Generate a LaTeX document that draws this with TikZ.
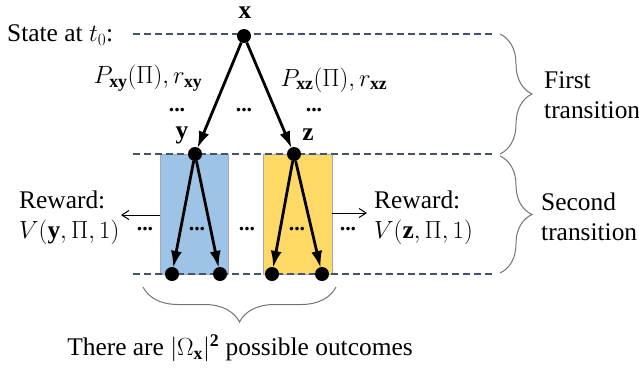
\documentclass[tikz,border=0pt]{standalone}
\usepackage{amsmath}
\usepackage{fontspec}
\setmainfont{Liberation Serif}
\usepackage{xcolor}
\usepackage{tikz}
\usetikzlibrary{arrows.meta,positioning,decorations.pathreplacing}
\definecolor{guide}{HTML}{44546A}
\definecolor{boxblue}{HTML}{9DC3E6}
\definecolor{boxgold}{HTML}{FFD966}

\begin{document}
\begin{tikzpicture}[x=1bp, y=-1bp,
    state/.style={circle, fill=black, inner sep=0pt, minimum size=14bp},
    level/.style={draw=guide, line width=1.8bp, dash pattern=on 7bp off 4bp},
    move/.style={-{Latex[length=17bp,width=11bp]}, line width=2.8bp, shorten >=-1bp},
    push/.style={-{Straight Barb[length=7bp,width=9bp]}, line width=1bp},
    span/.style={draw=black!55, line width=1bp, decorate, decoration={brace, amplitude=#1}},
    subbox/.style={draw=guide!50, line width=0.6bp, minimum width=68bp, minimum height=120bp, inner sep=0pt},
    txt/.style={font=\fontsize{25.5}{30}\selectfont, inner sep=0pt, align=left},
    more/.style={font=\fontsize{22}{28}\selectfont\bfseries, inner sep=0pt}
]
\useasboundingbox (0,0) rectangle (639,367);
\node[subbox, fill=boxblue] (ybox) at (194,214) {};
\node[subbox, fill=boxgold, minimum width=69bp] (zbox) at (297.5,214) {};
\coordinate (l0) at (133,34);  \coordinate (r0) at (493,34);
\coordinate (l1) at (133,154); \coordinate (r1) at (493,154);
\coordinate (l2) at (133,274); \coordinate (r2) at (493,274);
\draw[level] (l0) -- (r0);
\draw[level] (l1) -- (r1);
\draw[level] (l2) -- (r2);
\node[state] (x) at (244,36) {};
\node[state] (y) at (195,154) {};
\node[state] (z) at (294,154) {};
\node[state] (yy) at (172,274) {};
\node[state] (yz) at (220,274) {};
\node[state] (zy) at (272,274) {};
\node[state] (zz) at (322,274) {};
\draw[move] (x) -- (y);
\draw[move] (x) -- (z);
\draw[move] (y) -- (yy);
\draw[move] (y) -- (yz);
\draw[move] (z) -- (zy);
\draw[move] (z) -- (zz);
\node[txt] (xlab) at (245,13) {$\mathbf{x}$};
\node[txt] (ylab) at (182,135) {$\mathbf{y}$};
\node[txt] (zlab) at (308,135) {$\mathbf{z}$};
\node[txt, anchor=west] (t0) at (7,35) {State at $t_0$:};
\node[txt] (pxy) at (148,78) {$P_{\mathbf{xy}}(\Pi), r_{\mathbf{xy}}$};
\node[txt] (pxz) at (334,80) {$P_{\mathbf{xz}}(\Pi), r_{\mathbf{xz}}$};
\node[more] (d1) at (177,110) {...};
\node[more] (d2) at (244,110) {...};
\node[more] (d3) at (314,110) {...};
\node[more] (d4) at (145,229) {...};
\node[more] (d5) at (197,229) {...};
\node[more] (d6) at (247,229) {...};
\node[more] (d7) at (297,229) {...};
\node[more] (d8) at (348,229) {...};
\node[txt, anchor=west] (yrew) at (19,218) {Reward:\\$V(\mathbf{y},\Pi,1)$};
\node[txt, anchor=west] (zrew) at (374,218) {Reward:\\$V(\mathbf{z},\Pi,1)$};
\coordinate (ypush) at (121,215);
\coordinate (zpush) at (367,213);
\draw[push] (ybox.west |- ypush) -- (ypush);
\draw[push] (zbox.east |- zpush) -- (zpush);
\coordinate (b0) at (500,34);  \coordinate (b1) at (500,154);
\coordinate (b2) at (500,156); \coordinate (b3) at (500,273);
\coordinate (b4) at (336,287); \coordinate (b5) at (143,287);
\draw[span=32bp] (b0) -- (b1);
\draw[span=32bp] (b2) -- (b3);
\draw[span=35bp] (b4) -- (b5);
\node[txt, anchor=west] (first) at (544,95) {First\\transition};
\node[txt, anchor=west] (second) at (541,217) {Second\\transition};
\node[txt] (count) at (240,348) {There are $|\Omega_{\mathbf{x}}|^{\mathbf{2}}$ possible outcomes};
\end{tikzpicture}
\end{document}
